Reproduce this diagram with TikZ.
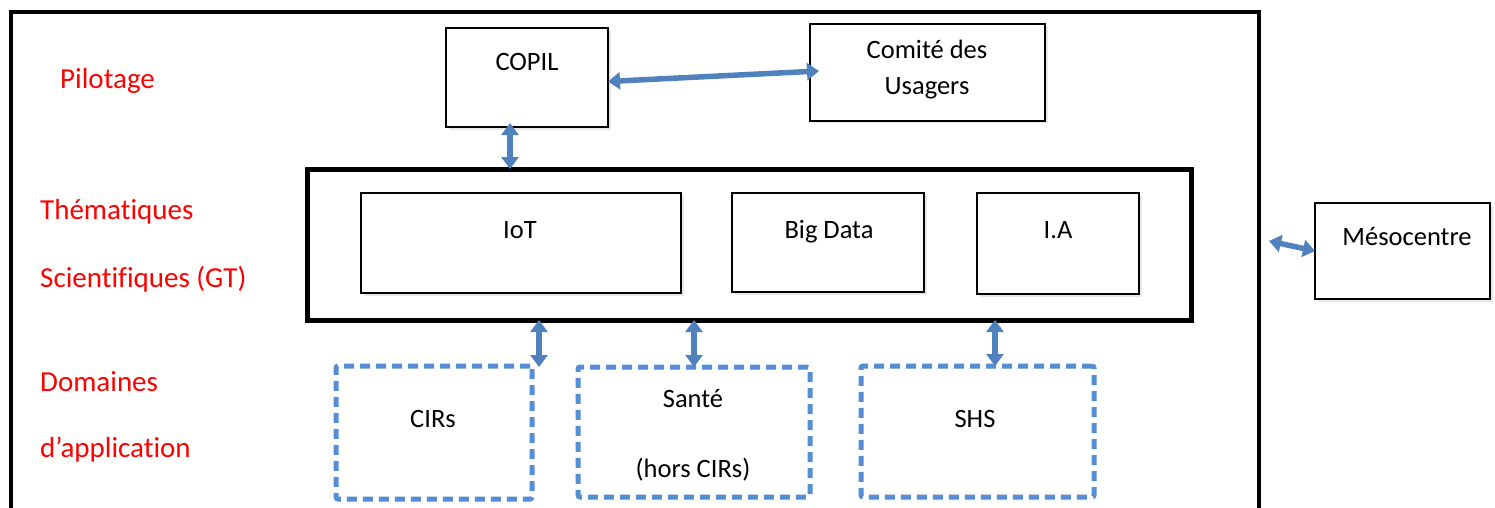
\documentclass[tikz,border=0pt]{standalone}
\usepackage{fontspec}
\setmainfont{Carlito}[Ligatures=NoCommon]
\usetikzlibrary{arrows.meta,shadows}
\definecolor{arrowblue}{RGB}{79,129,189}
\definecolor{dashblue}{RGB}{85,142,213}
\definecolor{labelred}{RGB}{255,0,0}
\tikzset{
  box/.style={draw=black, line width=1.8pt, fill=white, inner sep=0pt, outer sep=0pt,
    drop shadow={shadow xshift=2.5pt, shadow yshift=-2.5pt, opacity=0.18}},
  groupbox/.style={draw=black, line width=5pt, inner sep=0pt, outer sep=0pt},
  domainbox/.style={draw=dashblue, line width=5pt, dash pattern=on 10pt off 6pt,
    rounded corners=2pt, inner sep=0pt, outer sep=0pt},
  boxtext/.style={anchor=base, inner sep=0pt, font=\fontsize{26.5}{30}\selectfont},
  rowlabel/.style={anchor=base west, inner sep=0pt, text=labelred,
    font=\fontsize{29}{32}\selectfont},
  link/.style={draw=arrowblue, line width=5.5pt,
    {Triangle[width=17pt,length=12pt]}-{Triangle[width=17pt,length=12pt]}}
}
\begin{document}
\begin{tikzpicture}[x=1pt,y=-1pt]
\useasboundingbox (0,0) rectangle (1495,508);
\clip (0,0) rectangle (1495,508);

% outer frame, open below the page edge
\draw[line width=4pt] (11,540) -- (11,12) -- (1259,12) -- (1259,540);

% row labels
\node[rowlabel] (lpilot) at (60,89) {Pilotage};
\node[rowlabel] (lthem) at (40,219) {Thématiques};
\node[rowlabel] (lsci) at (40,287) {Scientifiques (GT)};
\node[rowlabel] (ldom) at (40,391) {Domaines};
\node[rowlabel] (lapp) at (40,457) {d’application};

% steering level
\node[box, minimum width=162pt, minimum height=99pt] (copil) at (527,77.5) {};
\node[boxtext] (tcopil) at (527,71) {COPIL};
\node[box, minimum width=235pt, minimum height=97pt] (comite) at (927.5,72.5) {};
\node[boxtext] (tcomite1) at (927,59) {Comité des};
\node[boxtext] (tcomite2) at (927,95) {Usagers};

% scientific themes
\node[groupbox, minimum width=884pt, minimum height=151pt] (thema) at (749,244.5) {};
\node[box, minimum width=320pt, minimum height=100pt] (iot) at (521,243) {};
\node[boxtext] (tiot) at (520,238) {IoT};
\node[box, minimum width=192pt, minimum height=99pt] (bigdata) at (828,242.5) {};
\node[boxtext] (tbig) at (829,238) {Big Data};
\node[box, minimum width=162pt, minimum height=101pt] (ia) at (1058,243.5) {};
\node[boxtext] (tia) at (1058,238) {I.A};

% external computing centre
\node[box, minimum width=175pt, minimum height=96pt] (meso) at (1402.5,251) {};
\node[boxtext] (tmeso) at (1407,245) {Mésocentre};

% application domains
\node[domainbox, minimum width=196pt, minimum height=133pt] (cirs) at (434,432.5) {};
\node[boxtext] (tcirs) at (433,427) {CIRs};
\node[domainbox, minimum width=232pt, minimum height=130pt] (sante) at (694,432) {};
\node[boxtext] (tsante1) at (693,407) {Santé};
\node[boxtext] (tsante2) at (693,477) {(hors CIRs)};
\node[domainbox, minimum width=233pt, minimum height=131pt] (shs) at (977.5,431.5) {};
\node[boxtext] (tshs) at (975,427) {SHS};

% connectors
\coordinate (copilR) at ([yshift=-4pt]copil.east);
\coordinate (comiteL) at ([xshift=9pt,yshift=1.5pt]comite.west);
\draw[link] (copilR) -- (comiteL);

\coordinate (copilB) at ([xshift=-17pt,yshift=4pt]copil.south);
\draw[link] (copilB) -- (copilB |- thema.north);

\coordinate (cirsT) at ([xshift=7pt,yshift=-1pt]cirs.north east);
\draw[link] (cirsT |- thema.south) -- (cirsT);
\draw[link] (sante.north |- thema.south) -- (sante.north);
\coordinate (shsT) at ([xshift=17.5pt]shs.north);
\draw[link] (shsT |- thema.south) -- (shsT);

\coordinate (mesoL) at ([xshift=-46pt,yshift=10pt]meso.west);
\draw[link] (mesoL) -- (meso.west);
\end{tikzpicture}
\end{document}
